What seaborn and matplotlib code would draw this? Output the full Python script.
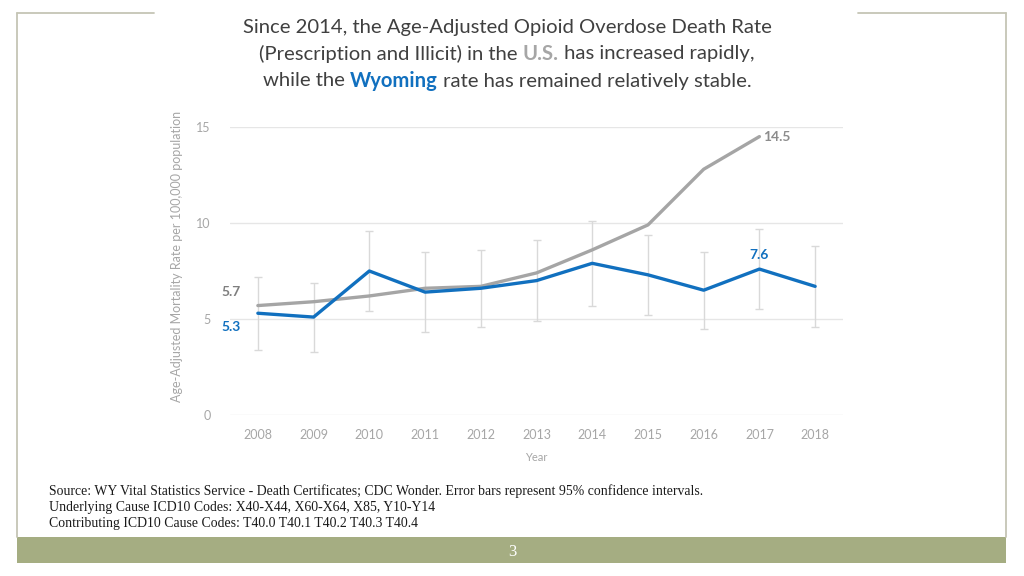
import matplotlib
matplotlib.use("Agg")
import matplotlib.pyplot as plt
import seaborn as sns
import pandas as pd
import numpy as np
from matplotlib.lines import Line2D
from matplotlib.patches import Rectangle

years = ["2008", "2009", "2010", "2011", "2012", "2013", "2014", "2015", "2016", "2017", "2018"]
wy_rate = [5.3, 5.1, 7.5, 6.4, 6.6, 7.0, 7.9, 7.3, 6.5, 7.6, 6.7]
wy_low = [3.4, 3.3, 5.4, 4.3, 4.6, 4.9, 5.7, 5.2, 4.5, 5.5, 4.6]
wy_high = [7.2, 6.9, 9.6, 8.5, 8.6, 9.1, 10.1, 9.4, 8.5, 9.7, 8.8]
us_rate = [5.7, 5.9, 6.2, 6.6, 6.7, 7.4, 8.6, 9.9, 12.8, 14.5, np.nan]
y_ticks = [0, 5, 10, 15]

BLUE = "#1170BF"
GREY = "#A5A5A5"
TXT_GREY = "#A6A6A6"

sns.set_theme(style="white")
plt.rcParams["font.family"] = ["Lato", "DejaVu Sans"]

df = pd.DataFrame({
    "Year": years * 2,
    "Rate": wy_rate + us_rate,
    "Area": ["Wyoming"] * len(years) + ["U.S."] * len(years),
})

fig = plt.figure(figsize=(10.24, 5.76), dpi=100)
W, H = 1024, 576
def fx(px): return px / W
def fy(py): return 1 - py / H

ax = fig.add_axes([fx(230), fy(415), fx(843) - fx(230), fy(127) - fy(415)])

# error bars (Wyoming 95% CI)
xi = np.arange(len(years))
wy = np.array(wy_rate)
ax.errorbar(xi, wy, yerr=[wy - np.array(wy_low), np.array(wy_high) - wy],
            fmt="none", ecolor="#D9D9D9", elinewidth=1, capsize=3, capthick=1, zorder=1)

sns.lineplot(data=df, x="Year", y="Rate", hue="Area", palette={"Wyoming": BLUE, "U.S.": GREY},
             hue_order=["U.S.", "Wyoming"], linewidth=2.4, legend=False, ax=ax, sort=False, zorder=3)

ax.set_xlim(-0.5, len(years) - 0.5)
ax.set_ylim(0, 15)
ax.set_yticks(y_ticks)
ax.set_yticklabels([str(t) for t in y_ticks])
ax.yaxis.grid(True, color="#E6E6E6", linewidth=1)
ax.xaxis.grid(False)
for s in ax.spines.values():
    s.set_visible(False)
ax.tick_params(axis="both", length=0, labelsize=9, labelcolor=TXT_GREY)
ax.tick_params(axis="y", pad=14)
ax.tick_params(axis="x", pad=10)
ax.set_xlabel("Year", fontsize=8, color=TXT_GREY, labelpad=8)
ax.set_ylabel("Age-Adjusted Mortality Rate per 100,000 population", fontsize=9,
              color=TXT_GREY)
ax.yaxis.set_label_coords((183 - 230) / (843 - 230), 0.55)

# data labels
ax.annotate(f"{us_rate[0]}", (0, us_rate[0]), xytext=(-12, 10), textcoords="offset points",
            ha="right", va="center", color="#7F7F7F", fontsize=10, fontweight="bold")
ax.annotate(f"{wy_rate[0]}", (0, wy_rate[0]), xytext=(-12, -10), textcoords="offset points",
            ha="right", va="center", color=BLUE, fontsize=10, fontweight="bold")
ax.annotate(f"{us_rate[9]}", (9, us_rate[9]), xytext=(3, 0), textcoords="offset points",
            ha="left", va="center", color="#8C8C8C", fontsize=10, fontweight="bold")
ax.annotate(f"{wy_rate[9]}", (9, wy_rate[9]), xytext=(0, 10), textcoords="offset points",
            ha="center", va="center", color=BLUE, fontsize=10, fontweight="bold")

# Title with coloured words
fig.canvas.draw()
renderer = fig.canvas.get_renderer()
title_lines = [
    [("Since 2014, the Age-Adjusted Opioid Overdose Death Rate", "#404040", "normal")],
    [("(Prescription and Illicit) in the ", "#404040", "normal"), ("U.S.", TXT_GREY, "bold"),
     (" has increased rapidly,", "#404040", "normal")],
    [("while the ", "#404040", "normal"), ("Wyoming", BLUE, "bold"),
     (" rate has remained relatively stable.", "#404040", "normal")],
]
title_y = [27, 54, 81]
fam = ["Lato", "DejaVu Sans"]
for parts, py in zip(title_lines, title_y):
    texts = []
    widths = []
    for s, c, w in parts:
        t = fig.text(0, fy(py), s, color=c, fontweight=w, fontsize=14.6, va="center", ha="left",
                     family=fam)
        texts.append(t)
        widths.append(t.get_window_extent(renderer).width)
    total = sum(widths)
    x0 = 507 - total / 2
    for t, w_ in zip(texts, widths):
        t.set_x(x0 / W)
        x0 += w_

# Footer
foot = ["Source: WY Vital Statistics Service - Death Certificates; CDC Wonder. Error bars represent 95% confidence intervals.",
        "Underlying Cause ICD10 Codes: X40-X44, X60-X64, X85, Y10-Y14",
        "Contributing ICD10 Cause Codes: T40.0 T40.1 T40.2 T40.3 T40.4"]
for s, py in zip(foot, [491, 507, 523]):
    fig.text(fx(49), fy(py), s, fontsize=9.9, color="#1a1a1a", va="center", ha="left",
             family=["Liberation Serif", "DejaVu Serif"])

# Frame and band
frame_c = "#C5C5B5"
fig.add_artist(Line2D([fx(17), fx(154)], [fy(13), fy(13)], color=frame_c, lw=1.3))
fig.add_artist(Line2D([fx(858), fx(1006)], [fy(13), fy(13)], color=frame_c, lw=1.3))
fig.add_artist(Line2D([fx(17), fx(17)], [fy(13), fy(537)], color=frame_c, lw=1.3))
fig.add_artist(Line2D([fx(1006), fx(1006)], [fy(13), fy(537)], color=frame_c, lw=1.3))
fig.add_artist(Rectangle((fx(17), fy(563)), fx(1006) - fx(17), fy(537) - fy(563),
                         transform=fig.transFigure, facecolor="#A5AD82", edgecolor="none"))
fig.text(fx(512), fy(552), "3", color="white", fontsize=12, ha="center", va="center",
         family=["Liberation Serif", "DejaVu Serif"])

fig.savefig("out.png", dpi=100, facecolor="white")
